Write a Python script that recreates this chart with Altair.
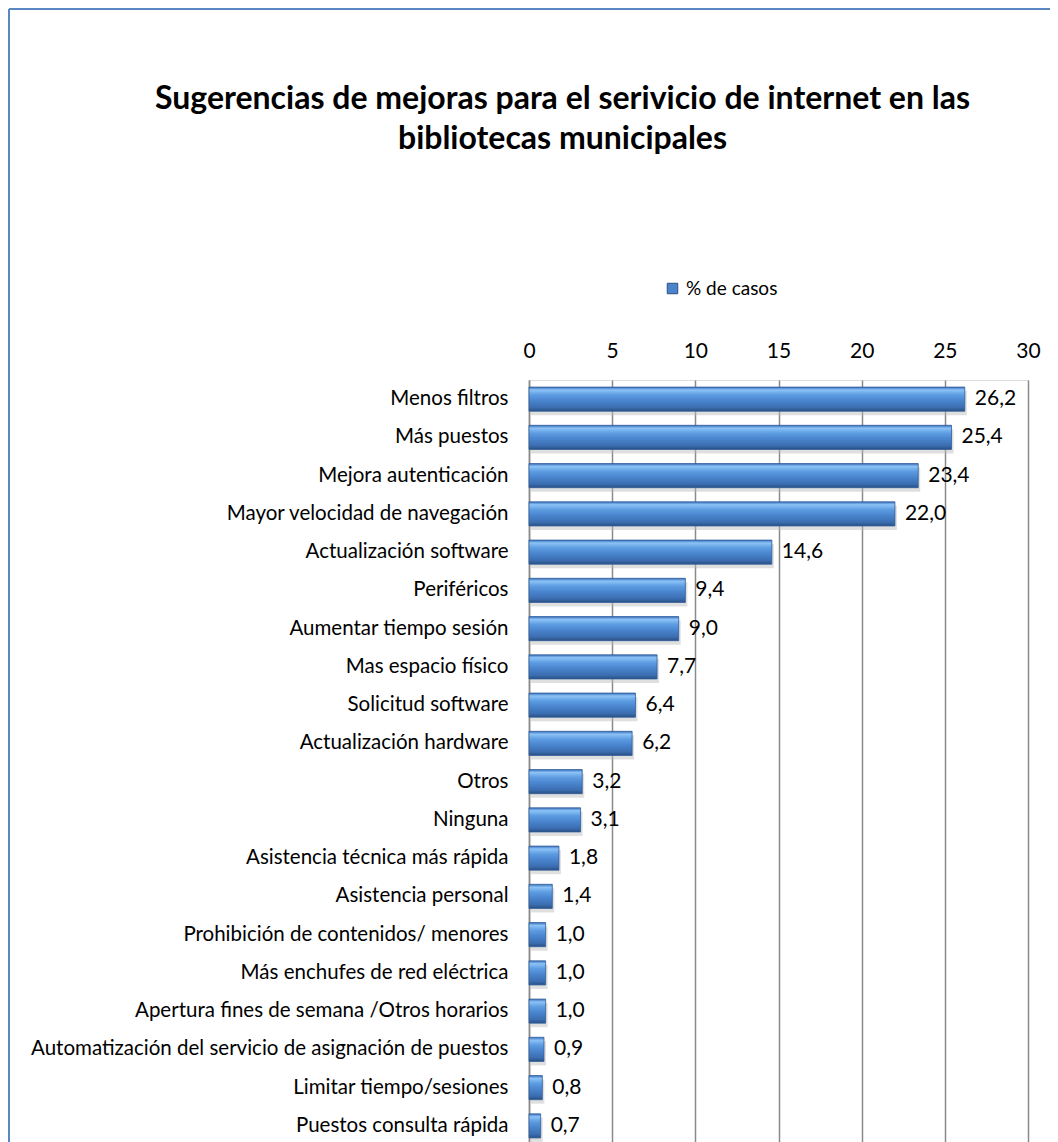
import altair as alt
import pandas as pd

categorias = [
    "Menos filtros", "Más puestos", "Mejora autenticación",
    "Mayor velocidad de navegación", "Actualización software", "Periféricos",
    "Aumentar tiempo sesión", "Mas espacio físico", "Solicitud software",
    "Actualización hardware", "Otros", "Ninguna",
    "Asistencia técnica más rápida", "Asistencia personal",
    "Prohibición de contenidos/ menores", "Más enchufes de red eléctrica",
    "Apertura fines de semana /Otros horarios",
    "Automatización del servicio de asignación de puestos",
    "Limitar tiempo/sesiones", "Puestos consulta rápida",
]
valores = [26.2, 25.4, 23.4, 22.0, 14.6, 9.4, 9.0, 7.7, 6.4, 6.2,
           3.2, 3.1, 1.8, 1.4, 1.0, 1.0, 1.0, 0.9, 0.8, 0.7]
serie = "% de casos"

df = pd.DataFrame({"cat": categorias, "v": valores, "serie": serie})

FONT = "Lato"

y_enc = alt.Y("cat:N", sort=categorias,
              scale=alt.Scale(paddingInner=0.37, paddingOuter=0.185),
              axis=alt.Axis(title=None, ticks=False, domain=True, domainColor="#8a8a8a",
                            domainWidth=1.5, labelFontSize=20.5, labelColor="#000",
                            labelFont=FONT, labelPadding=21, labelLimit=700, grid=False))
x_enc = alt.X("v:Q", scale=alt.Scale(domain=[0, 30], nice=False),
              axis=alt.Axis(orient="top", title=None, values=[0, 5, 10, 15, 20, 25, 30],
                            ticks=False, domain=False, grid=True, gridColor="#8a8a8a",
                            gridWidth=1.5, labelFontSize=21, labelColor="#000",
                            labelFont=FONT, labelPadding=19, labelFlush=False))

grad = alt.Gradient(
    gradient="linear", x1=0, x2=0, y1=0, y2=1,
    stops=[
        alt.GradientStop(color="#3a6fbb", offset=0.0),
        alt.GradientStop(color="#8cc3f6", offset=0.12),
        alt.GradientStop(color="#5e9de2", offset=0.32),
        alt.GradientStop(color="#4a86cf", offset=0.55),
        alt.GradientStop(color="#3b6db0", offset=0.85),
        alt.GradientStop(color="#2a4f82", offset=1.0),
    ],
)

base = alt.Chart(df)

legend_layer = base.mark_bar(opacity=0).encode(
    x=x_enc, y=y_enc,
    color=alt.Color("serie:N", scale=alt.Scale(range=["#4a83cc"]),
                    legend=alt.Legend(title=None, orient="none", legendX=134, legendY=-101,
                                      symbolType="square", symbolSize=110, symbolOpacity=1,
                                      symbolStrokeColor="#2a4f82", symbolStrokeWidth=1,
                                      labelFontSize=19, labelFont=FONT, labelColor="#000",
                                      labelOffset=4)),
)

shadow = base.mark_bar(color="#b8b8b8", opacity=0.45, yOffset=4, xOffset=2).encode(
    x="v:Q", y=alt.Y("cat:N", sort=categorias))

bars = base.mark_bar(color=grad, stroke="#2f5d9a", strokeWidth=0.8).encode(
    x="v:Q", y=alt.Y("cat:N", sort=categorias))

labels = base.transform_calculate(
    lab="replace(format(datum.v, '.1f'), '.', ',')"
).mark_text(align="left", baseline="middle", dx=10, fontSize=21, font=FONT, color="#000").encode(
    x="v:Q", y=alt.Y("cat:N", sort=categorias), text="lab:N")

border_top = base.mark_rule(color="#5a86c2", strokeWidth=2).encode(
    x=alt.value(-520), x2=alt.value(530), y=alt.value(-371))
border_left = base.mark_rule(color="#5a86c2", strokeWidth=2).encode(
    x=alt.value(-520), y=alt.value(-371), y2=alt.value(800))

chart = alt.layer(legend_layer, shadow, bars, labels, border_top, border_left).properties(
    width=499, height=765,
    autosize="none",
    padding={"left": 521, "top": 372, "right": 22, "bottom": 0},
    title=alt.TitleParams(
        text=["Sugerencias de mejoras para el serivicio de internet en las",
              "bibliotecas municipales"],
        font=FONT, fontSize=32, fontWeight="bold", color="#000",
        lineHeight=40, anchor="middle", frame="group", dx=-216, dy=152,
    ),
).configure_view(stroke=None).configure(background="white")

chart.save("out.html", embed_options={"renderer": "svg", "actions": False})
